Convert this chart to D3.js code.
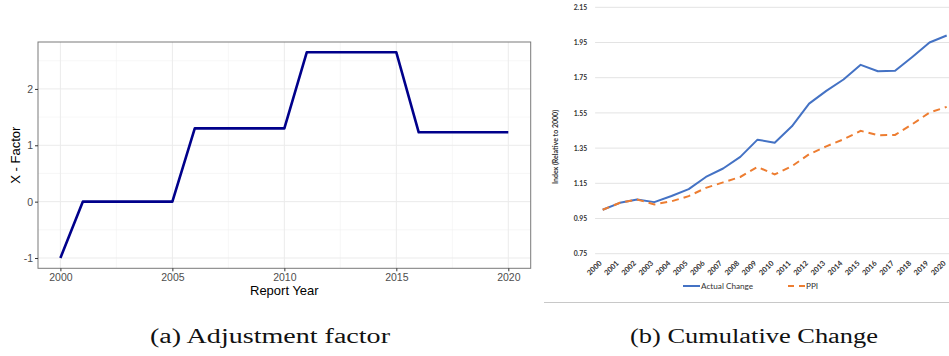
<!DOCTYPE html>
<html>
<head>
<meta charset="utf-8">
<script src="https://cdn.jsdelivr.net/npm/d3@7"></script>
<style>
  html, body { margin: 0; padding: 0; background: #fff; }
  svg { display: block; }
</style>
</head>
<body>
<svg id="fig" width="949" height="356"></svg>
<script>
// ---- (a) Adjustment factor: X-factor by report year ----
const reportYears = [2000, 2001, 2005, 2006, 2010, 2011, 2015, 2016, 2020];
const xFactor     = [-1,   0,    0,    1.30, 1.30, 2.65, 2.65, 1.23, 1.23];
const xFactorTicksX = [2000, 2005, 2010, 2015, 2020];
const xFactorTicksY = [-1, 0, 1, 2];

// ---- (b) Cumulative change index (relative to 2000) ----
const indexYears = ["2000","2001","2002","2003","2004","2005","2006","2007","2008","2009",
                    "2010","2011","2012","2013","2014","2015","2016","2017","2018","2019","2020"];
const actualChange = [1.000, 1.039, 1.058, 1.043, 1.078, 1.117, 1.186, 1.234, 1.300, 1.398,
                      1.380, 1.474, 1.603, 1.675, 1.740, 1.823, 1.787, 1.789, 1.868, 1.950, 1.990];
const ppi          = [1.000, 1.039, 1.058, 1.030, 1.048, 1.077, 1.124, 1.155, 1.186, 1.243,
                      1.200, 1.247, 1.315, 1.360, 1.400, 1.448, 1.423, 1.425, 1.486, 1.552, 1.584];
const indexTicks = [0.75, 0.95, 1.15, 1.35, 1.55, 1.75, 1.95, 2.15];
const seriesNames = ["Actual Change", "PPI"];

const svg = d3.select("#fig");

// ================= Panel (a) =================
{
  const L = 38, R = 530.7, T = 42, B = 268.3;
  const x = d3.scaleLinear().domain([1999, 2021]).range([L, R]);
  const y = d3.scaleLinear().domain([-1.1825, 2.8325]).range([B, T]);
  const g = svg.append("g");

  // minor grid
  const minorX = d3.range(2002.5, 2021, 5);
  const minorY = [-0.5, 0.5, 1.5, 2.5];
  g.selectAll(".mgx").data(minorX).join("line")
    .attr("x1", d => x(d)).attr("x2", d => x(d)).attr("y1", T).attr("y2", B)
    .attr("stroke", "#f2f2f2").attr("stroke-width", 0.6);
  g.selectAll(".mgy").data(minorY).join("line")
    .attr("x1", L).attr("x2", R).attr("y1", d => y(d)).attr("y2", d => y(d))
    .attr("stroke", "#f2f2f2").attr("stroke-width", 0.6);
  // major grid
  g.selectAll(".gx").data(xFactorTicksX).join("line")
    .attr("x1", d => x(d)).attr("x2", d => x(d)).attr("y1", T).attr("y2", B)
    .attr("stroke", "#ebebeb").attr("stroke-width", 1);
  g.selectAll(".gy").data(xFactorTicksY).join("line")
    .attr("x1", L).attr("x2", R).attr("y1", d => y(d)).attr("y2", d => y(d))
    .attr("stroke", "#ebebeb").attr("stroke-width", 1);

  // line
  const pts = reportYears.map((yr, i) => [yr, xFactor[i]]);
  g.append("path").datum(pts)
    .attr("fill", "none").attr("stroke", "#00008b").attr("stroke-width", 2.6)
    .attr("stroke-linejoin", "round")
    .attr("d", d3.line().x(d => x(d[0])).y(d => y(d[1])));

  // border
  g.append("rect").attr("x", L).attr("y", T).attr("width", R - L).attr("height", B - T)
    .attr("fill", "none").attr("stroke", "#7a7a7a").attr("stroke-width", 1);

  // axes
  const ax = g.append("g").attr("transform", `translate(0,${B})`)
    .call(d3.axisBottom(x).tickValues(xFactorTicksX).tickFormat(d => String(d)).tickSize(3).tickPadding(2));
  const ay = g.append("g").attr("transform", `translate(${L},0)`)
    .call(d3.axisLeft(y).tickValues(xFactorTicksY).tickFormat(d => String(d)).tickSize(3).tickPadding(2));
  [ax, ay].forEach(a => {
    a.select(".domain").remove();
    a.selectAll(".tick line").attr("stroke", "#333");
    a.selectAll(".tick text").attr("fill", "#4d4d4d")
      .style("font-family", "'Liberation Sans', Arial, sans-serif").style("font-size", "10.5px");
  });

  g.append("text").attr("x", (L + R) / 2).attr("y", 295)
    .attr("text-anchor", "middle")
    .style("font-family", "'Liberation Sans', Arial, sans-serif").style("font-size", "13px")
    .text("Report Year");
  g.append("text").attr("transform", `translate(20,${(T + B) / 2}) rotate(-90)`)
    .attr("text-anchor", "middle")
    .style("font-family", "'Liberation Sans', Arial, sans-serif").style("font-size", "13px")
    .text("X - Factor");
}

// ================= Panel (b) =================
{
  const L = 594.1, R = 955.3, T = 7.3, B = 253.7;
  const x = d3.scalePoint().domain(indexYears).range([L, R]).padding(0.5);
  const y = d3.scaleLinear().domain([0.75, 2.15]).range([B, T]);
  const g = svg.append("g");
  const font = "Lato, 'Open Sans', sans-serif";

  g.selectAll(".gy").data(indexTicks).join("line")
    .attr("x1", L + 1).attr("x2", R).attr("y1", d => y(d)).attr("y2", d => y(d))
    .attr("stroke", "#e3e3e3").attr("stroke-width", 1);

  const ay = g.append("g").attr("transform", `translate(${L},0)`)
    .call(d3.axisLeft(y).tickValues(indexTicks).tickFormat(d3.format(".2f")).tickSize(0).tickPadding(7));
  ay.select(".domain").remove();
  ay.selectAll(".tick text").attr("fill", "#333")
    .style("font-family", font).style("font-size", "6.8px").style("font-weight", "bold");

  const ax = g.append("g").attr("transform", `translate(0,${B})`)
    .call(d3.axisBottom(x).tickSize(0).tickPadding(0));
  ax.select(".domain").remove();
  ax.selectAll(".tick text")
    .attr("text-anchor", "end").attr("dy", 0).attr("y", 0)
    .attr("transform", "translate(-1,10) rotate(-45)")
    .attr("fill", "#333")
    .style("font-family", font).style("font-size", "7.4px").style("font-weight", "bold");

  g.append("text").attr("transform", `translate(558,147) rotate(-90)`)
    .attr("text-anchor", "middle").attr("fill", "#333")
    .style("font-family", font).style("font-size", "7px").style("font-weight", "bold")
    .text("Index (Relative to 2000)");

  const line = d3.line().x((d, i) => x(indexYears[i])).y(d => y(d));
  g.append("path").datum(actualChange)
    .attr("fill", "none").attr("stroke", "#4472c4").attr("stroke-width", 2)
    .attr("stroke-linejoin", "round").attr("d", line);
  g.append("path").datum(ppi)
    .attr("fill", "none").attr("stroke", "#ed7d31").attr("stroke-width", 2)
    .attr("stroke-dasharray", "7,5").attr("d", line);

  // legend
  const leg = [
    { name: seriesNames[0], color: "#4472c4", dash: null, x: 683 },
    { name: seriesNames[1], color: "#ed7d31", dash: "6,5", x: 788 }
  ];
  leg.forEach(l => {
    g.append("line").attr("x1", l.x).attr("x2", l.x + 17).attr("y1", 286).attr("y2", 286)
      .attr("stroke", l.color).attr("stroke-width", 2).attr("stroke-dasharray", l.dash);
    g.append("text").attr("x", l.x + 18).attr("y", 289)
      .attr("fill", "#333")
      .style("font-family", font).style("font-size", "8.2px")
      .text(l.name);
  });

  g.append("line").attr("x1", 544).attr("x2", 949).attr("y1", 302.5).attr("y2", 302.5)
    .attr("stroke", "#c8c8c8").attr("stroke-width", 1);
}

// ================= Captions =================
const captions = [
  { text: "(a) Adjustment factor", cx: 270, w: 240 },
  { text: "(b) Cumulative Change", cx: 754, w: 248 }
];
svg.selectAll(".cap").data(captions).join("text")
  .attr("x", d => d.cx - d.w / 2).attr("y", 343)
  .attr("textLength", d => d.w).attr("lengthAdjust", "spacingAndGlyphs")
  .style("font-family", "'Liberation Serif', 'Times New Roman', serif")
  .style("font-size", "20.5px")
  .attr("fill", "#111")
  .text(d => d.text);
</script>
</body>
</html>
